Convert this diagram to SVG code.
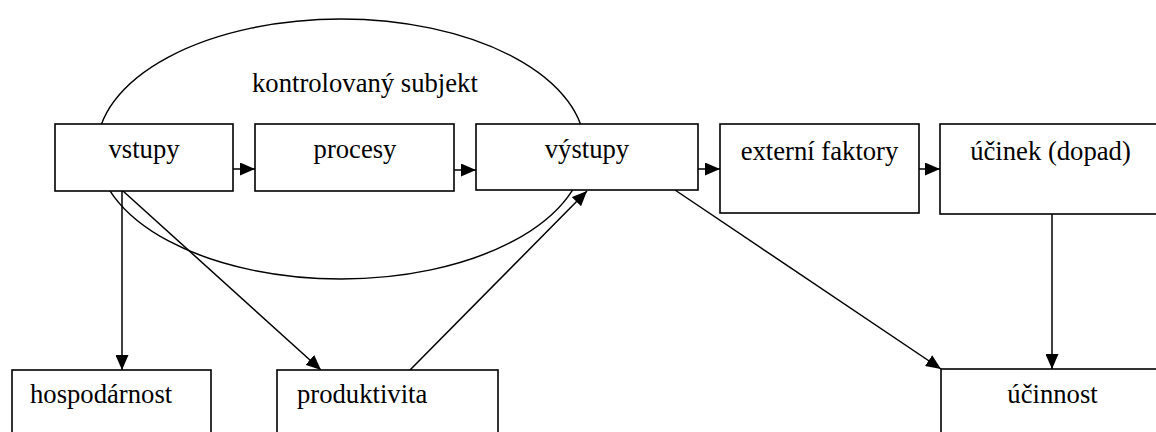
<svg xmlns="http://www.w3.org/2000/svg" width="1156" height="432" viewBox="0 0 1156 432">
<style>
.box{fill:#fff;stroke:#000;stroke-width:1.6}
text{font-family:'Liberation Serif','Times New Roman','DejaVu Serif',serif;font-size:26.67px;fill:#000}
.c{text-anchor:middle}
.ln{stroke:#000;stroke-width:1.5;fill:none;marker-end:url(#ah)}
</style>
<defs>
<marker id="ah" markerUnits="userSpaceOnUse" markerWidth="15" markerHeight="13" refX="15" refY="6.5" orient="auto" viewBox="0 0 15 13">
<path d="M0,0 L15,6.5 L0,13 z" fill="#000"/>
</marker>
</defs>
<rect width="1156" height="432" fill="#fff"/>
<g id="subjekt">
<ellipse cx="341" cy="149" rx="244" ry="130" fill="none" stroke="#000" stroke-width="1.5"/>
<text font-family="Liberation Serif, serif" x="252" y="92">kontrolovaný subjekt</text>
</g>
<g id="connectors">
<line class="ln" x1="233" y1="169" x2="255" y2="169"/>
<line class="ln" x1="454" y1="170" x2="476" y2="170"/>
<line class="ln" x1="698" y1="169" x2="720" y2="169"/>
<line class="ln" x1="919" y1="169" x2="940" y2="169"/>
<line class="ln" x1="122" y1="191" x2="122" y2="370"/>
<line class="ln" x1="123" y1="191" x2="321" y2="370"/>
<line class="ln" x1="410" y1="370" x2="587" y2="191"/>
<line class="ln" x1="675" y1="190" x2="941" y2="369"/>
<line class="ln" x1="1052" y1="214" x2="1052" y2="369"/>
</g>
<g id="vstupy"><rect class="box" x="55" y="124" width="178" height="67"/><text class="c" x="144" y="158">vstupy</text></g>
<g id="procesy"><rect class="box" x="255" y="124" width="199" height="67"/><text class="c" x="355" y="158">procesy</text></g>
<g id="vystupy"><rect class="box" x="476" y="124" width="222" height="66"/><text class="c" x="587" y="158">výstupy</text></g>
<g id="externi"><rect class="box" x="720" y="124" width="199" height="89"/><text class="c" x="819.5" y="160">externí faktory</text></g>
<g id="ucinek"><rect class="box" x="940" y="124" width="222" height="90"/><text class="c" x="1050.5" y="160">účinek (dopad)</text></g>
<g id="hospodarnost"><rect class="box" x="12" y="370" width="199" height="70"/><text x="30" y="403">hospodárnost</text></g>
<g id="produktivita"><rect class="box" x="277" y="370" width="221" height="70"/><text x="297" y="403">produktivita</text></g>
<g id="ucinnost"><rect class="box" x="941" y="369" width="222" height="70"/><text class="c" x="1052.5" y="403">účinnost</text></g>
</svg>
